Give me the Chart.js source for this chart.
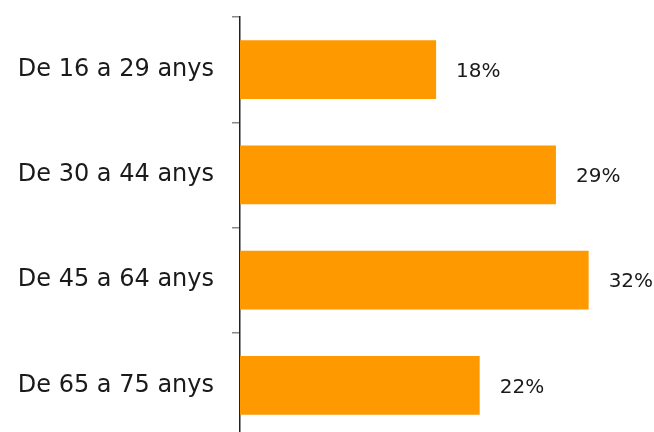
<!DOCTYPE html>
<html>
<head>
<meta charset="utf-8">
<script src="https://cdn.jsdelivr.net/npm/chart.js@4"></script>
<style>
  html, body { margin: 0; padding: 0; background: #fff; overflow: hidden; }
  #wrap { width: 654px; height: 438px; }
</style>
</head>
<body>
<div id="wrap"><canvas id="grafic"></canvas></div>
<script>
// Dades del gràfic
const categories = ["De 16 a 29 anys", "De 30 a 44 anys", "De 45 a 64 anys", "De 65 a 75 anys"]
const percentatges = [18, 29, 32, 22]

const colorBarra = "#FF9900"
const colorText = "#1a1a1a"

// Plugin per escriure el percentatge al costat de cada barra
const etiquetes = {
    id: "etiquetes",
    afterDatasetsDraw(chart) {
        const ctx = chart.ctx
        const meta = chart.getDatasetMeta(0)
        ctx.save()
        ctx.font = "20px 'DejaVu Sans'"
        ctx.fillStyle = colorText
        ctx.textAlign = "left"
        ctx.textBaseline = "middle"
        meta.data.forEach((bar, i) => {
            ctx.fillText(percentatges[i] + "%", bar.x + 20, bar.y + 2)
        })
        ctx.restore()
    }
}

new Chart(document.getElementById("grafic").getContext("2d"), {
    type: "bar",
    data: {
        labels: categories,
        datasets: [{
            data: percentatges,
            backgroundColor: colorBarra,
            barPercentage: 0.56,
            categoryPercentage: 1
        }]
    },
    options: {
        indexAxis: "y",
        responsive: true,
        maintainAspectRatio: false,
        animation: false,
        layout: { padding: { top: 17, right: 0, bottom: 0, left: 0 } },
        plugins: {
            legend: { display: false },
            tooltip: { enabled: false }
        },
        scales: {
            x: {
                display: false,
                min: 0,
                max: 38
            },
            y: {
                afterFit(scale) {
                    scale.width = 240
                    scale.paddingTop = 0
                    scale.paddingBottom = 0
                },
                border: { display: true, color: "#222", width: 1.5 },
                grid: {
                    drawOnChartArea: false,
                    drawTicks: true,
                    tickLength: 8,
                    lineWidth: 1.5,
                    color: "#888"
                },
                ticks: {
                    padding: 18,
                    color: colorText,
                    font: { family: "'DejaVu Sans'", size: 24 }
                }
            }
        }
    },
    plugins: [etiquetes]
})
</script>
</body>
</html>
